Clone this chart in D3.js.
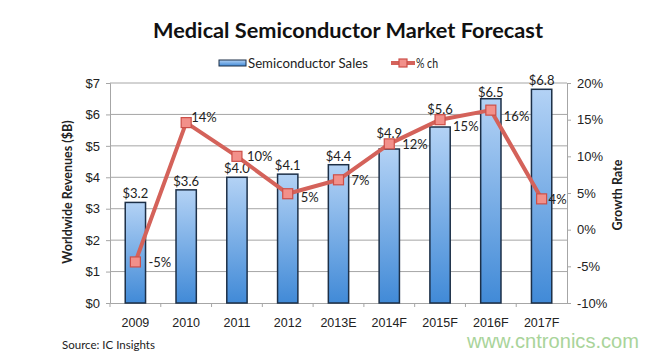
<!DOCTYPE html>
<html><head><meta charset="utf-8">
<script src="https://cdn.jsdelivr.net/npm/d3@7"></script>
<style>body{margin:0;background:#fff}svg{display:block;font-family:Lato,"Open Sans",sans-serif}</style>
</head><body>
<script>
const years = ["2009","2010","2011","2012","2013E","2014F","2015F","2016F","2017F"];
const sales = [3.2,3.6,4.0,4.1,4.4,4.9,5.6,6.5,6.8];
const salesLabels = ["$3.2","$3.6","$4.0","$4.1","$4.4","$4.9","$5.6","$6.5","$6.8"];
const growth = [-4.4,14.6,10.0,4.9,6.8,11.7,15.0,16.3,4.2];
const growthLabels = ["-5%","14%","10%","5%","7%","12%","15%","16%","4%"];
const leftTicks = [0,1,2,3,4,5,6,7];
const rightTicks = [-10,-5,0,5,10,15,20];

const W=650,H=357;
const svg=d3.select("body").append("svg").attr("width",W).attr("height",H);
const defs=svg.append("defs");
const g=defs.append("linearGradient").attr("id","bg").attr("x1",0).attr("x2",0).attr("y1",0).attr("y2",1);
g.append("stop").attr("offset","0%").attr("stop-color","#b3d2f5");
g.append("stop").attr("offset","100%").attr("stop-color","#418ad7");

const L=110,R=567,T=83,B=303;
const x=d3.scaleBand().domain(years).range([L,R]).paddingInner(0.6).paddingOuter(0.3);
const yL=d3.scaleLinear().domain([0,7]).range([B,T]);
const yR=d3.scaleLinear().domain([-10,20]).range([B,T]);

// gridlines
svg.append("g").selectAll("line").data(leftTicks.filter(d=>d>0)).join("line")
 .attr("x1",L).attr("x2",R).attr("y1",d=>yL(d)).attr("y2",d=>yL(d))
 .attr("stroke","#a6a6a6").attr("stroke-width",1);

// left axis
const ax=svg.append("g").attr("transform",`translate(${L},0)`)
 .call(d3.axisLeft(yL).tickValues(leftTicks).tickFormat(d=>"$"+d).tickSize(4).tickPadding(6));
ax.select(".domain").attr("stroke","#a6a6a6");
ax.selectAll(".tick line").attr("stroke","#a6a6a6");
ax.selectAll("text").attr("font-size",13).attr("fill","#222");

// right axis
const ar=svg.append("g").attr("transform",`translate(${R},0)`)
 .call(d3.axisRight(yR).tickValues(rightTicks).tickFormat(d=>d+"%").tickSize(4).tickPadding(6));
ar.select(".domain").attr("stroke","#a6a6a6");
ar.selectAll(".tick line").attr("stroke","#a6a6a6");
ar.selectAll("text").attr("font-size",13).attr("fill","#222");

// x axis
const axb=svg.append("g").attr("transform",`translate(0,${B})`)
 .call(d3.axisBottom(x).tickSize(0).tickPadding(15));
axb.select(".domain").attr("stroke","#a6a6a6");
axb.selectAll("text").attr("font-size",12.5).attr("fill","#222");
const step=x.step();
svg.append("g").selectAll("line").data(years).join("line")
 .attr("x1",d=>x(d)-step*0.3).attr("x2",d=>x(d)-step*0.3).attr("y1",B).attr("y2",B+4)
 .attr("stroke","#a6a6a6");

// bars
svg.append("g").selectAll("rect").data(years).join("rect")
 .attr("x",d=>x(d)).attr("width",x.bandwidth())
 .attr("y",(d,i)=>yL(sales[i])).attr("height",(d,i)=>B-yL(sales[i]))
 .attr("fill","url(#bg)").attr("stroke","#1c2f47").attr("stroke-width",1.5);
const sdy=i=> i===5?11:(i===6?13:(i===7?2:4));
svg.append("g").selectAll("text").data(years).join("text")
 .attr("x",d=>x(d)+x.bandwidth()/2).attr("y",(d,i)=>yL(sales[i])-sdy(i))
 .attr("text-anchor","middle").attr("font-size",13).attr("fill","#222")
 .text((d,i)=>salesLabels[i]);

// line
const cx=d=>x(d)+x.bandwidth()/2;
svg.append("path").datum(years)
 .attr("d",d3.line().x(d=>cx(d)).y((d,i)=>yR(growth[i])))
 .attr("fill","none").attr("stroke","#d4625a").attr("stroke-width",4).attr("stroke-linejoin","round");
svg.append("g").selectAll("rect").data(years).join("rect")
 .attr("x",d=>cx(d)-5).attr("y",(d,i)=>yR(growth[i])-5).attr("width",10).attr("height",10)
 .attr("fill","#f2908a").attr("stroke","#cc4f48").attr("stroke-width",1.2);
const ldx=i=> i===1?5:(i===8?7:(i===2?10:13));
const ldy=i=> i===1?-1:(i===6||i===7?11:(i===3?8:5));
svg.append("g").selectAll("text").data(years).join("text")
 .attr("x",(d,i)=>cx(d)+ldx(i)).attr("y",(d,i)=>yR(growth[i])+ldy(i))
 .attr("font-size",13).attr("fill","#222")
 .text((d,i)=>growthLabels[i]);

// title
svg.append("text").attr("x",348).attr("y",38).attr("text-anchor","middle")
 .attr("font-size",21).attr("font-weight","bold").attr("fill","#111")
 .attr("textLength",390).attr("lengthAdjust","spacingAndGlyphs")
 .text("Medical Semiconductor Market Forecast");

// legend
svg.append("rect").attr("x",219).attr("y",60).attr("width",27).attr("height",6)
 .attr("fill","url(#bg)").attr("stroke","#1c2f47").attr("stroke-width",1);
svg.append("text").attr("x",248).attr("y",68).attr("font-size",13.5).attr("fill","#222")
 .attr("textLength",120).attr("lengthAdjust","spacingAndGlyphs").text("Semiconductor Sales");
svg.append("line").attr("x1",391).attr("x2",415).attr("y1",63).attr("y2",63)
 .attr("stroke","#d4625a").attr("stroke-width",4);
svg.append("rect").attr("x",399).attr("y",59).attr("width",8).attr("height",8)
 .attr("fill","#f2908a").attr("stroke","#cc4f48").attr("stroke-width",1.2);
svg.append("text").attr("x",416).attr("y",68).attr("font-size",13.5).attr("fill","#222")
 .attr("textLength",22).attr("lengthAdjust","spacingAndGlyphs").text("% ch");

// axis titles
svg.append("text").attr("transform","translate(72,192) rotate(-90)").attr("text-anchor","middle")
 .attr("font-size",12.5).attr("font-weight","bold").attr("fill","#222").text("Worldwide Revenues ($B)");
svg.append("text").attr("transform","translate(622,195) rotate(-90)").attr("text-anchor","middle")
 .attr("font-size",12.5).attr("font-weight","bold").attr("fill","#222").text("Growth Rate");

// source & watermark
svg.append("text").attr("x",62).attr("y",349).attr("font-size",11.5).attr("fill","#222").text("Source: IC Insights");
svg.append("text").attr("x",467).attr("y",348).attr("font-size",20).attr("fill","#a9d49a")
 .attr("textLength",172).attr("lengthAdjust","spacingAndGlyphs")
 .attr("font-family","'Liberation Sans',Arial,sans-serif").text("www.cntronics.com");
</script>
</body></html>
